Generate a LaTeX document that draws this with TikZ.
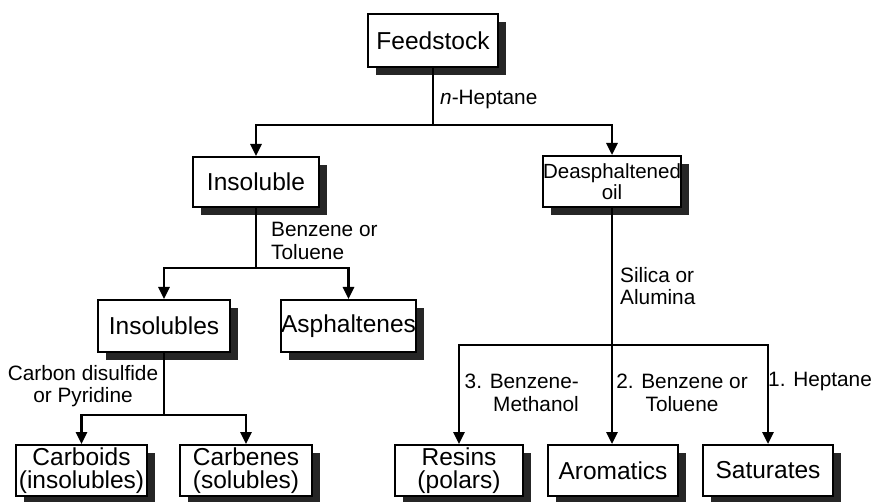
\documentclass[tikz,border=0pt]{standalone}
\usepackage{fontspec}
\setmainfont{Liberation Sans}
\usetikzlibrary{arrows.meta,shadows}
\begin{document}
\begin{tikzpicture}[x=1pt,y=-1pt,
  box/.style={draw,line width=2pt,fill=white,inner sep=0pt,align=center,
    font=\fontsize{24.5}{23.5}\selectfont,
    drop shadow={shadow xshift=8pt,shadow yshift=-8pt,fill=black!85,opacity=1}},
  lbl/.style={font=\fontsize{20.8}{22.5}\selectfont,inner sep=0pt},
  conn/.style={line width=2.7pt},
  arr/.style={conn,-{Triangle[length=12pt,width=11pt]}}]
\useasboundingbox (0,0) rectangle (872,502);
% boxes
\node[box,minimum width=130pt,minimum height=53pt] (feed) at (433,40.5) {Feedstock};
\node[box,minimum width=126pt,minimum height=50pt] (ins) at (256,182) {Insoluble};
\node[box,minimum width=138pt,minimum height=51pt,font=\fontsize{20.5}{21.5}\selectfont] (da) at (612,181.5) {Deasphaltened\\oil};
\node[box,minimum width=132pt,minimum height=52pt] (inss) at (164,326) {Insolubles};
\node[box,minimum width=133pt,minimum height=52pt] (asp) at (348.5,326) {Asphaltenes};
\node[box,minimum width=131pt,minimum height=51pt] (carb) at (81.5,470.5) {Carboids\\(insolubles)};
\node[box,minimum width=132pt,minimum height=51pt] (carbe) at (246,470.5) {Carbenes\\(solubles)};
\node[box,minimum width=128pt,minimum height=51pt] (res) at (459,470.5) {Resins\\(polars)};
\node[box,minimum width=130pt,minimum height=51pt] (aro) at (613,470.5) {Aromatics};
\node[box,minimum width=130pt,minimum height=51pt] (sat) at (768,470.5) {Saturates};
% junctions
\coordinate (j1) at (433,125);
\coordinate (j2) at (256,268);
\coordinate (j3) at (164,415);
\coordinate (j4) at (612,345);
% connectors
\draw[conn] (feed) -- (j1);
\draw[arr] (j1) -| (ins);
\draw[arr] (j1) -| (da);
\draw[conn] (ins) -- (j2);
\draw[arr] (j2) -| (inss);
\draw[arr] (j2) -| (asp);
\draw[conn] (inss) -- (j3);
\draw[arr] (j3) -| (carb);
\draw[arr] (j3) -| (carbe);
\draw[arr] (da) -- (j4) -- (aro.north -| j4);
\draw[arr] (j4) -| (res);
\draw[arr] (j4) -| (sat);
% labels
\node[lbl,anchor=west] (l1) at (440,100) {\textit{n}-Heptane};
\node[lbl,anchor=west,align=left] (l2) at (271,241) {Benzene or\\Toluene};
\node[lbl,anchor=west,align=left] (l3) at (620,286) {Silica or\\Alumina};
\node[lbl,align=center] (l4) at (83,386) {Carbon disulfide\\or Pyridine};
\node[lbl,anchor=east,align=right] (l5) at (579,393) {3. Benzene-\\Methanol};
\node[lbl,align=center] (l6) at (682,393) {2. Benzene or\\Toluene};
\node[lbl,anchor=west] (l7) at (768,382) {1. Heptane};
\end{tikzpicture}
\end{document}
